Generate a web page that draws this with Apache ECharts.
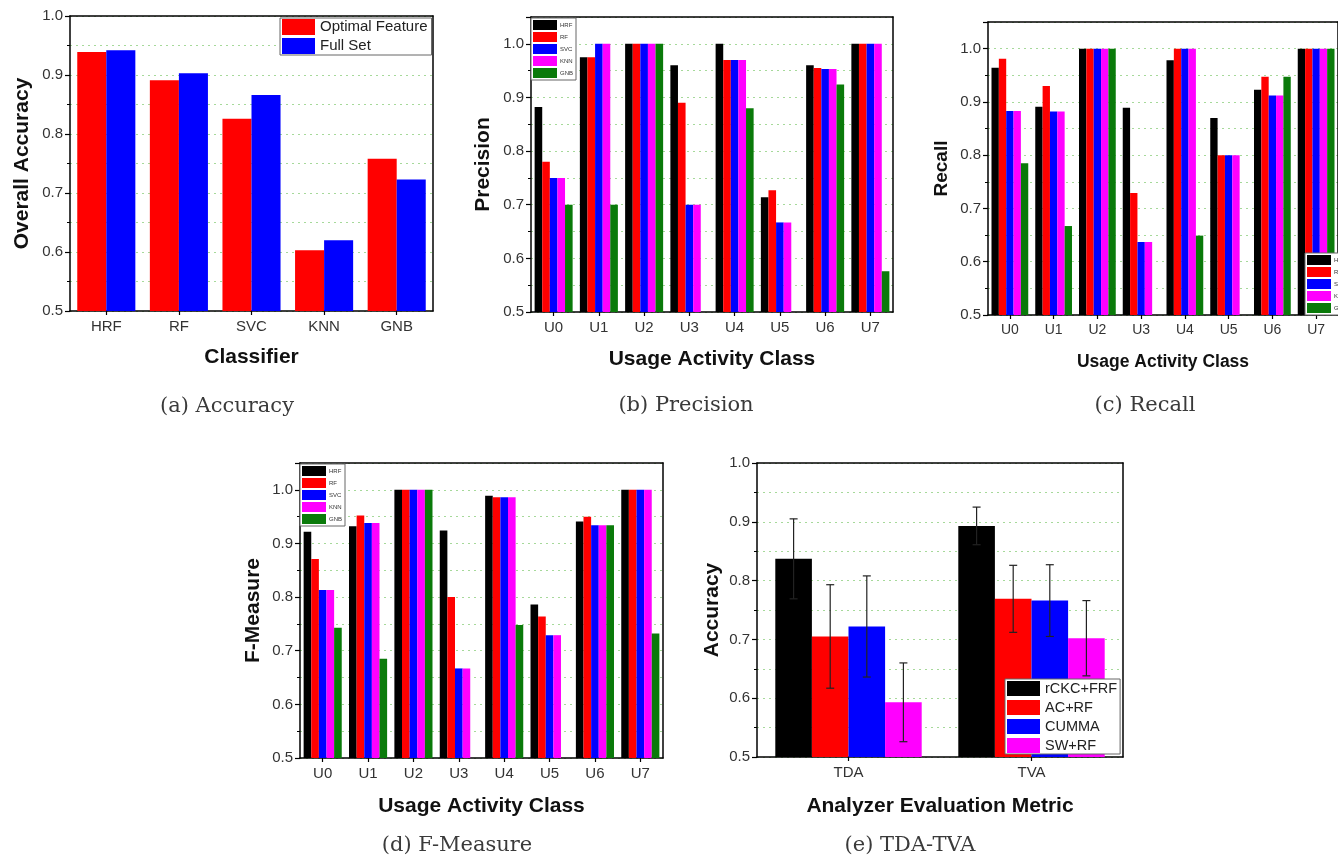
<!DOCTYPE html>
<html>
<head>
<meta charset="utf-8">
<script src="https://cdn.jsdelivr.net/npm/echarts@6/dist/echarts.min.js"></script>
<style>
html,body{margin:0;padding:0;background:#fff;}
#main{width:1338px;height:861px;}
</style>
</head>
<body>
<div id="main"></div>
<script>
// ---------- DATA ----------
const accClassifiers = ['HRF', 'RF', 'SVC', 'KNN', 'GNB'];
const accOptimal = [0.939, 0.891, 0.826, 0.603, 0.758];
const accFull = [0.942, 0.903, 0.866, 0.620, 0.723];

const usageClasses = ['U0', 'U1', 'U2', 'U3', 'U4', 'U5', 'U6', 'U7'];
const methodNames = ['HRF', 'RF', 'SVC', 'KNN', 'GNB'];

const precHRF = [0.882, 0.975, 1.0, 0.960, 1.0, 0.714, 0.960, 1.0];
const precRF  = [0.780, 0.975, 1.0, 0.890, 0.970, 0.727, 0.955, 1.0];
const precSVC = [0.750, 1.0, 1.0, 0.700, 0.970, 0.667, 0.953, 1.0];
const precKNN = [0.750, 1.0, 1.0, 0.700, 0.970, 0.667, 0.953, 1.0];
const precGNB = [0.700, 0.700, 1.0, null, 0.880, null, 0.924, 0.576];

const recHRF = [0.964, 0.891, 1.0, 0.889, 0.978, 0.870, 0.923, 1.0];
const recRF  = [0.981, 0.930, 1.0, 0.729, 1.0, 0.800, 0.947, 1.0];
const recSVC = [0.883, 0.882, 1.0, 0.637, 1.0, 0.800, 0.912, 1.0];
const recKNN = [0.883, 0.882, 1.0, 0.637, 1.0, 0.800, 0.912, 1.0];
const recGNB = [0.785, 0.667, 1.0, null, 0.649, null, 0.947, 1.0];

const fHRF = [0.922, 0.932, 1.0, 0.924, 0.989, 0.786, 0.941, 1.0];
const fRF  = [0.871, 0.952, 1.0, 0.800, 0.986, 0.764, 0.950, 1.0];
const fSVC = [0.813, 0.938, 1.0, 0.667, 0.986, 0.729, 0.934, 1.0];
const fKNN = [0.813, 0.938, 1.0, 0.667, 0.986, 0.729, 0.934, 1.0];
const fGNB = [0.743, 0.685, 1.0, null, 0.748, null, 0.934, 0.732];

const analyzerMetrics = ['TDA', 'TVA'];
const analyzerMethods = ['rCKC+FRF', 'AC+RF', 'CUMMA', 'SW+RF'];
const meanRCKC = [0.837, 0.893];
const errRCKC  = [0.068, 0.032];
const meanAC   = [0.705, 0.769];
const errAC    = [0.088, 0.057];
const meanCUMMA = [0.722, 0.766];
const errCUMMA  = [0.086, 0.061];
const meanSW   = [0.593, 0.702];
const errSW    = [0.067, 0.064];

// ---------- STYLE ----------
const SANS = 'Liberation Sans';
const SERIF = 'DejaVu Serif';
const methodColors = ['#000000', '#ff0000', '#0000ff', '#ff00ff', '#0a7a0a'];
const gridLineColor = '#a6d99a';

const chart = echarts.init(document.getElementById('main'), null, {renderer: 'canvas'});

function yAxisDef(gridIndex, name, max, nameGap, nameSize, labelSize) {
  return {
    type: 'value', gridIndex: gridIndex, min: 0.5, max: max, interval: 0.1,
    name: name, nameLocation: 'middle', nameGap: nameGap, nameRotate: 90,
    nameTextStyle: {fontFamily: SANS, fontWeight: 'bold', fontSize: nameSize, color: '#111'},
    axisLine: {show: true, lineStyle: {color: '#000', width: 1.5}},
    axisTick: {show: true, inside: false, length: 5, lineStyle: {color: '#000', width: 1.2}},
    minorTick: {show: true, splitNumber: 2, length: 3, lineStyle: {color: '#000', width: 1}},
    axisLabel: {
      fontFamily: SANS, fontSize: labelSize, color: '#333', margin: 7,
      formatter: function (v) {
        const t = Math.round(v * 10);
        return Math.abs(v * 10 - t) < 1e-6 ? (t / 10).toFixed(1) : '';
      }
    },
    splitLine: {show: true, lineStyle: {color: gridLineColor, type: [2, 4], width: 1}},
    minorSplitLine: {show: true, lineStyle: {color: gridLineColor, type: [2, 4], width: 1}}
  };
}

function xAxisDef(gridIndex, cats, name, nameGap, nameSize, labelSize) {
  return {
    type: 'category', gridIndex: gridIndex, data: cats,
    name: name, nameLocation: 'middle', nameGap: nameGap,
    nameTextStyle: {fontFamily: SANS, fontWeight: 'bold', fontSize: nameSize, color: '#111'},
    axisLine: {show: true, lineStyle: {color: '#000', width: 1.5}},
    axisTick: {show: true, alignWithLabel: true, length: 4, lineStyle: {color: '#000', width: 1.2}},
    axisLabel: {fontFamily: SANS, fontSize: labelSize, color: '#333', margin: 8},
    splitLine: {show: false}
  };
}

// frame axes (top and right edges of each plot box)
function topFrameAxis(gridIndex, cats) {
  return {
    type: 'category', gridIndex: gridIndex, data: cats, position: 'top',
    axisLine: {show: true, lineStyle: {color: '#000', width: 1.5}},
    axisTick: {show: false}, axisLabel: {show: false}, splitLine: {show: false}
  };
}
function rightFrameAxis(gridIndex, max) {
  return {
    type: 'value', gridIndex: gridIndex, position: 'right', min: 0.5, max: max,
    axisLine: {show: true, lineStyle: {color: '#000', width: 1.5}},
    axisTick: {show: false}, axisLabel: {show: false},
    splitLine: {show: false}, minorSplitLine: {show: false}
  };
}

function methodSeries(axisIdx, arrays, gap) {
  return arrays.map(function (arr, i) {
    return {
      type: 'bar', name: methodNames[i], xAxisIndex: axisIdx, yAxisIndex: axisIdx,
      data: arr, barGap: '0%', barCategoryGap: gap,
      itemStyle: {color: methodColors[i]}
    };
  });
}

function smallLegend(left, top) {
  return {
    show: true, orient: 'vertical', left: left, top: top,
    data: methodNames, selectedMode: false,
    icon: 'rect', itemWidth: 24, itemHeight: 10, itemGap: 2,
    padding: [2, 3, 2, 2],
    backgroundColor: '#fff', borderColor: '#666', borderWidth: 1,
    textStyle: {fontFamily: SANS, fontSize: 6, color: '#333', padding: [0, 0, 0, -2]}
  };
}

function errorSeries(axisIdx, k, nBars, means, errs) {
  const data = means.map(function (m, i) { return [i, m, errs[i]]; });
  return {
    type: 'custom', xAxisIndex: axisIdx, yAxisIndex: axisIdx, z: 10,
    encode: {x: 0, y: 1},
    data: data,
    renderItem: function (params, api) {
      const idx = api.value(0), m = api.value(1), e = api.value(2);
      const c = api.coord([idx, m]);
      const top = api.coord([idx, m + e]);
      const bot = api.coord([idx, m - e]);
      const band = api.size([1, 0])[0];
      const bw = band * 0.8 / nBars;
      const x = c[0] - band * 0.4 + (k + 0.5) * bw;
      const cap = 4;
      const st = {stroke: '#222', lineWidth: 1.2};
      return {
        type: 'group', children: [
          {type: 'line', shape: {x1: x, y1: top[1], x2: x, y2: bot[1]}, style: st},
          {type: 'line', shape: {x1: x - cap, y1: top[1], x2: x + cap, y2: top[1]}, style: st},
          {type: 'line', shape: {x1: x - cap, y1: bot[1], x2: x + cap, y2: bot[1]}, style: st}
        ]
      };
    }
  };
}

const gridBase = {show: false, containLabel: false};
const captionStyle = {fontFamily: SERIF, fontSize: 21, fontWeight: 'normal', color: '#3a3a3a'};

const option = {
  animation: false,
  backgroundColor: '#ffffff',
  grid: [
    Object.assign({left: 70, top: 16, width: 363, height: 295}, gridBase),
    Object.assign({left: 531, top: 17, width: 362, height: 295}, gridBase),
    Object.assign({left: 988, top: 22, width: 362, height: 293}, gridBase),
    Object.assign({left: 300, top: 463, width: 363, height: 295}, gridBase),
    Object.assign({left: 757, top: 463, width: 366, height: 294}, gridBase)
  ],
  xAxis: [
    xAxisDef(0, accClassifiers, 'Classifier', 36, 21, 15),
    xAxisDef(1, usageClasses, 'Usage Activity Class', 37, 21, 15),
    xAxisDef(2, usageClasses, 'Usage Activity Class', 38, 17.5, 14),
    xAxisDef(3, usageClasses, 'Usage Activity Class', 38, 21, 15),
    xAxisDef(4, analyzerMetrics, 'Analyzer Evaluation Metric', 39, 21, 15),
    topFrameAxis(0, accClassifiers),
    topFrameAxis(1, usageClasses),
    topFrameAxis(2, usageClasses),
    topFrameAxis(3, usageClasses),
    topFrameAxis(4, analyzerMetrics)
  ],
  yAxis: [
    yAxisDef(0, 'Overall Accuracy', 1.0, 37, 21, 15),
    yAxisDef(1, 'Precision', 1.05, 37, 21, 15),
    yAxisDef(2, 'Recall', 1.05, 37, 19, 15),
    yAxisDef(3, 'F-Measure', 1.05, 36, 21, 15),
    yAxisDef(4, 'Accuracy', 1.0, 34, 21, 15),
    rightFrameAxis(0, 1.0),
    rightFrameAxis(1, 1.05),
    rightFrameAxis(2, 1.05),
    rightFrameAxis(3, 1.05),
    rightFrameAxis(4, 1.0)
  ],
  legend: [
    {
      show: true, orient: 'vertical', left: 280, top: 18, selectedMode: false,
      data: ['Optimal Feature', 'Full Set'],
      icon: 'rect', itemWidth: 33, itemHeight: 16, itemGap: 3,
      padding: [1, 4, 1, 2],
      backgroundColor: '#fff', borderColor: '#666', borderWidth: 1,
      textStyle: {fontFamily: SANS, fontSize: 15, color: '#222'}
    },
    smallLegend(531, 18),
    smallLegend(1305, 253),
    smallLegend(300, 464),
    {
      show: true, orient: 'vertical', left: 1005, top: 679, selectedMode: false,
      data: analyzerMethods,
      icon: 'rect', itemWidth: 33, itemHeight: 15, itemGap: 4,
      padding: [2, 3, 1, 2],
      backgroundColor: '#fff', borderColor: '#666', borderWidth: 1,
      textStyle: {fontFamily: SANS, fontSize: 14.5, color: '#222'}
    }
  ],
  title: [
    {text: '(a) Accuracy', left: 222, top: 391, textAlign: 'center', textStyle: captionStyle},
    {text: '(b) Precision', left: 681, top: 390, textAlign: 'center', textStyle: captionStyle},
    {text: '(c) Recall', left: 1140, top: 390, textAlign: 'center', textStyle: captionStyle},
    {text: '(d) F-Measure', left: 452, top: 830, textAlign: 'center', textStyle: captionStyle},
    {text: '(e) TDA-TVA', left: 905, top: 830, textAlign: 'center', textStyle: captionStyle}
  ],
  series: [].concat(
    [
      {type: 'bar', name: 'Optimal Feature', xAxisIndex: 0, yAxisIndex: 0, data: accOptimal, barGap: '0%', barCategoryGap: '20%', itemStyle: {color: '#ff0000'}},
      {type: 'bar', name: 'Full Set', xAxisIndex: 0, yAxisIndex: 0, data: accFull, barGap: '0%', barCategoryGap: '20%', itemStyle: {color: '#0000ff'}}
    ],
    methodSeries(1, [precHRF, precRF, precSVC, precKNN, precGNB], '16%'),
    methodSeries(2, [recHRF, recRF, recSVC, recKNN, recGNB], '16%'),
    methodSeries(3, [fHRF, fRF, fSVC, fKNN, fGNB], '16%'),
    [
      {type: 'bar', name: 'rCKC+FRF', xAxisIndex: 4, yAxisIndex: 4, data: meanRCKC, barGap: '0%', barCategoryGap: '20%', itemStyle: {color: '#000000'}},
      {type: 'bar', name: 'AC+RF', xAxisIndex: 4, yAxisIndex: 4, data: meanAC, barGap: '0%', barCategoryGap: '20%', itemStyle: {color: '#ff0000'}},
      {type: 'bar', name: 'CUMMA', xAxisIndex: 4, yAxisIndex: 4, data: meanCUMMA, barGap: '0%', barCategoryGap: '20%', itemStyle: {color: '#0000ff'}},
      {type: 'bar', name: 'SW+RF', xAxisIndex: 4, yAxisIndex: 4, data: meanSW, barGap: '0%', barCategoryGap: '20%', itemStyle: {color: '#ff00ff'}},
      errorSeries(4, 0, 4, meanRCKC, errRCKC),
      errorSeries(4, 1, 4, meanAC, errAC),
      errorSeries(4, 2, 4, meanCUMMA, errCUMMA),
      errorSeries(4, 3, 4, meanSW, errSW)
    ]
  )
};

chart.setOption(option);
</script>
</body>
</html>
